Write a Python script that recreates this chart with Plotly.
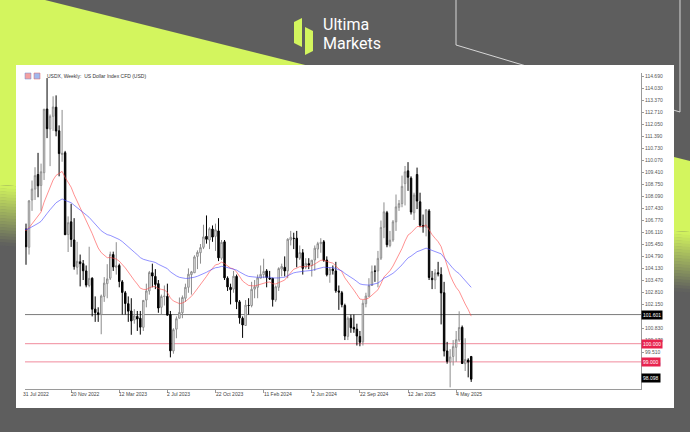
import plotly.graph_objects as go

W, H = 690, 432
ML, MR, MT, MB = 25, 49, 73, 43
PW, PH = W - ML - MR, H - MT - MB


def px(x):
    return (x - ML) / PW


def py(y):
    return (H - MB - y) / PH


# ---------------- data (weekly USDX CFD) ----------------
open_ = [105.55, 106.30, 105.30, 107.90, 108.50, 109.30, 108.70, 109.40, 112.90, 111.80,
         112.50, 113.00, 111.70, 110.40, 110.50, 106.00, 106.70, 105.70, 104.20, 104.50,
         104.40, 104.00, 103.20, 103.60, 101.90, 101.70, 101.60, 102.60, 103.30, 103.60,
         104.90, 104.20, 104.30, 103.40, 102.80, 102.20, 101.80, 101.30, 101.50, 101.40,
         100.90, 102.40, 102.90, 103.90, 103.70, 103.30, 102.00, 102.60, 102.60, 101.60,
         99.60, 100.80, 101.40, 101.70, 102.50, 103.10, 103.80, 103.90, 104.80, 105.00,
         105.30, 105.90, 105.70, 106.30, 105.90, 106.20, 104.70, 105.60, 103.60, 103.10,
         103.00, 103.70, 102.30, 101.40, 101.00, 102.10, 102.10, 103.00, 103.10, 103.60,
         103.80, 104.00, 103.60, 103.60, 102.40, 103.10, 104.10, 104.20, 104.00, 105.70,
         105.80, 105.80, 104.70, 105.00, 104.20, 104.40, 104.30, 104.60, 105.20, 105.50,
         105.60, 104.60, 103.80, 104.10, 104.00, 102.90, 102.80, 102.10, 100.40, 101.40,
         100.90, 100.80, 100.40, 100.10, 102.20, 102.60, 103.20, 104.00, 104.00, 104.70,
         106.40, 107.20, 105.40, 105.70, 106.70, 107.50, 107.70, 108.80, 109.50, 109.10,
         107.20, 109.30, 107.80, 106.50, 106.40, 107.30, 103.60, 103.50, 103.90, 103.80,
         102.80, 99.60, 99.00, 99.30, 99.80, 100.20, 100.90, 98.90, 99.10, 99.30]
high = [106.63, 106.60, 107.90, 108.97, 109.70, 110.49, 109.90, 112.90, 114.60, 112.60,
        113.60, 113.65, 112.00, 112.85, 110.60, 107.00, 107.69, 106.90, 105.60, 104.90,
        104.60, 104.30, 105.33, 103.65, 102.60, 102.00, 102.70, 103.66, 104.37, 105.06,
        105.06, 105.58, 104.40, 103.50, 102.90, 102.60, 102.50, 101.90, 101.80, 101.80,
        102.40, 103.30, 104.00, 104.40, 104.10, 103.50, 102.70, 103.20, 103.30, 101.80,
        100.85, 101.50, 102.54, 102.65, 103.30, 104.14, 104.00, 104.86, 105.13, 105.48,
        106.54, 107.05, 106.40, 106.50, 106.60, 106.90, 105.70, 105.70, 103.70, 103.30,
        104.00, 103.80, 102.40, 101.50, 102.40, 102.50, 103.40, 103.50, 103.80, 104.30,
        104.67, 104.10, 104.00, 103.60, 103.20, 104.20, 104.40, 104.80, 105.80, 106.20,
        106.10, 106.20, 105.40, 105.20, 104.70, 104.70, 104.60, 105.40, 105.60, 105.80,
        105.70, 104.80, 104.20, 104.30, 104.50, 103.20, 102.90, 102.20, 101.50, 101.60,
        101.60, 101.10, 100.70, 102.40, 102.80, 103.60, 104.30, 104.30, 105.10, 106.77,
        107.77, 107.30, 106.20, 106.80, 108.20, 107.90, 109.24, 109.77, 109.98, 109.20,
        108.30, 109.68, 108.30, 107.10, 107.40, 107.40, 104.00, 104.10, 104.50, 104.20,
        103.40, 100.10, 99.70, 100.20, 100.70, 101.78, 101.00, 100.30, 99.20, 99.30]
low = [104.33, 104.34, 104.90, 107.30, 107.90, 108.05, 107.30, 109.00, 111.30, 109.76,
       111.70, 111.40, 109.20, 110.00, 105.98, 105.04, 105.32, 104.07, 103.80, 103.15,
       103.50, 103.10, 103.10, 101.50, 101.20, 101.20, 100.52, 102.30, 102.50, 103.50,
       104.00, 103.80, 103.10, 101.60, 101.60, 101.20, 100.49, 101.10, 100.70, 100.50,
       100.70, 102.00, 102.70, 103.10, 103.00, 101.70, 101.60, 102.10, 101.55, 99.25,
       99.45, 100.30, 101.40, 101.40, 102.30, 102.80, 102.70, 103.90, 104.10, 104.40,
       105.20, 105.50, 105.20, 105.60, 105.10, 104.54, 104.60, 103.50, 102.90, 102.16,
       102.80, 101.90, 101.10, 100.32, 101.00, 101.60, 102.00, 102.50, 102.50, 103.60,
       103.60, 103.10, 103.50, 102.04, 102.30, 102.90, 103.70, 103.70, 103.60, 105.40,
       105.20, 104.20, 104.60, 103.80, 104.10, 104.10, 103.69, 104.00, 104.70, 105.00,
       104.50, 103.70, 103.35, 103.80, 102.80, 101.86, 102.00, 100.20, 100.20, 100.60,
       100.60, 99.90, 99.86, 99.90, 102.00, 102.60, 103.20, 103.40, 103.10, 104.60,
       105.80, 105.30, 105.30, 105.60, 106.20, 107.30, 107.50, 107.60, 108.40, 107.10,
       106.80, 107.40, 106.40, 106.10, 105.90, 103.50, 103.00, 103.00, 103.70, 101.06,
       99.30, 98.90, 97.60, 98.80, 99.00, 100.10, 98.90, 98.50, 98.15, 97.90]
close = [106.31, 105.33, 107.85, 108.50, 109.24, 108.68, 109.45, 112.89, 111.82, 112.50,
         113.01, 111.69, 110.45, 110.47, 105.99, 106.65, 105.73, 104.24, 104.53, 104.40,
         104.01, 103.22, 103.59, 101.90, 101.71, 101.62, 102.62, 103.33, 103.56, 104.91,
         104.22, 104.28, 103.42, 102.82, 102.21, 101.79, 101.25, 101.53, 101.36, 100.91,
         102.38, 102.90, 103.91, 103.72, 103.26, 101.96, 102.59, 102.61, 101.57, 99.61,
         100.77, 101.37, 101.72, 102.54, 103.10, 103.82, 103.95, 104.77, 105.02, 105.28,
         105.87, 105.74, 106.32, 105.86, 106.26, 104.72, 105.57, 103.62, 103.12, 102.97,
         103.71, 102.30, 101.42, 101.03, 102.12, 102.10, 102.99, 103.13, 103.62, 103.81,
         103.97, 103.64, 103.56, 102.42, 103.13, 104.13, 104.25, 104.00, 105.74, 105.85,
         105.78, 104.73, 105.01, 104.14, 104.42, 104.32, 104.59, 105.25, 105.50, 105.57,
         104.58, 103.79, 104.10, 104.02, 102.91, 102.84, 102.15, 100.42, 101.40, 100.88,
         100.81, 100.42, 100.08, 102.22, 102.62, 103.19, 103.96, 103.98, 104.69, 106.39,
         107.25, 105.44, 105.69, 106.70, 107.52, 107.70, 108.65, 109.45, 109.15, 107.24,
         108.17, 107.84, 106.51, 106.43, 107.36, 103.64, 103.52, 103.89, 103.84, 102.79,
         99.60, 99.03, 99.27, 99.84, 100.22, 100.89, 98.91, 99.13, 98.99, 98.05]

date_ticks = [0, 16, 32, 48, 64, 80, 96, 112, 128, 144]
date_labels = ["31 Jul 2022", "20 Nov 2022", "12 Mar 2023", "2 Jul 2023", "22 Oct 2023",
               "11 Feb 2024", "2 Jun 2024", "22 Sep 2024", "12 Jan 2025", "4 May 2025"]
# visible price scale labels (the ones hidden behind price tags are omitted)
price_ticks = [114.69, 114.03, 113.37, 112.71, 112.05, 111.39, 110.73, 110.07, 109.41,
               108.75, 108.09, 107.43, 106.77, 106.11, 105.45, 104.79, 104.13, 103.47,
               102.81, 102.15, 100.83, 100.17, 99.51, 98.85]
level_black = 101.601
level_red = [100.000, 99.000]
last_price = 98.098
ma_fast_period = 20
ma_slow_period = 50


def ema(values, period):
    a = 2.0 / (period + 1)
    out = [values[0]]
    for v in values[1:]:
        out.append(out[-1] + a * (v - out[-1]))
    return out


x_idx = list(range(len(close)))
ma_fast = ema(close, ma_fast_period)
ma_slow = ema(close, ma_slow_period)

LIME = "#d3f55e"
GRAY = "#5e5e5e"
FONT = "Liberation Sans"

fig = go.Figure()
fig.add_trace(go.Candlestick(
    x=x_idx, open=open_, high=high, low=low, close=close,
    increasing=dict(line=dict(color="#8c8c8c", width=1), fillcolor="#ffffff"),
    decreasing=dict(line=dict(color="#000000", width=1), fillcolor="#000000"),
    whiskerwidth=0, hoverinfo="skip", showlegend=False))
fig.add_trace(go.Scatter(x=x_idx, y=ma_fast, mode="lines",
                         line=dict(color="rgba(255,70,70,0.75)", width=0.8),
                         hoverinfo="skip", showlegend=False))
fig.add_trace(go.Scatter(x=x_idx, y=ma_slow, mode="lines",
                         line=dict(color="rgba(70,70,255,0.75)", width=0.8),
                         hoverinfo="skip", showlegend=False))

shapes = []


def poly(points, color, layer="below"):
    d = "M " + " L ".join(f"{px(x):.5f},{py(y):.5f}" for x, y in points) + " Z"
    return dict(type="path", path=d, xref="paper", yref="paper", fillcolor=color,
                line=dict(width=0), layer=layer)


def mix(c1, c2, t):
    a = [int(c1[i:i + 2], 16) for i in (1, 3, 5)]
    b = [int(c2[i:i + 2], 16) for i in (1, 3, 5)]
    return "rgb(%d,%d,%d)" % tuple(round(a[k] + (b[k] - a[k]) * t) for k in range(3))


# lime diagonal band with fading bottom
a0, b0, fade = 185, 232, 60
shapes.append(poly([(0, 0), (45, 0), (690, 161), (690, b0), (0, a0)], LIME))
n = 20
for k in range(n):
    t = (k + 0.5) / n
    y0a, y0b = a0 + fade * k / n, b0 + fade * k / n
    y1a, y1b = a0 + fade * (k + 1) / n, b0 + fade * (k + 1) / n
    shapes.append(poly([(0, y0a), (690, y0b), (690, y1b + 0.5), (0, y1a + 0.5)], mix(LIME, GRAY, t)))

# decorative outline
outline = "M {} L {} L {} L {}".format(
    f"{px(456):.5f},{py(-2):.5f}", f"{px(456):.5f},{py(45):.5f}",
    f"{px(680):.5f},{py(112):.5f}", f"{px(680):.5f},{py(-2):.5f}")
shapes.append(dict(type="path", path=outline, xref="paper", yref="paper",
                   line=dict(color="rgba(235,235,235,0.85)", width=1), layer="below"))

# white chart panel
shapes.append(dict(type="rect", xref="paper", yref="paper", x0=px(16), x1=px(674),
                   y0=py(65), y1=py(408), fillcolor="#ffffff", line=dict(width=0), layer="below"))

# logo icon
shapes.append(poly([(294, 22), (302, 18), (302, 47), (294, 43)], LIME, layer="above"))
shapes.append(poly([(305, 27), (313, 31), (313, 51), (305, 55)], LIME, layer="above"))

# legend icons
shapes.append(dict(type="rect", xref="paper", yref="paper", x0=px(25), x1=px(31), y0=py(73), y1=py(79),
                   fillcolor="#f4a0a0", line=dict(color="#6a8fd8", width=0.5), layer="above"))
shapes.append(dict(type="rect", xref="paper", yref="paper", x0=px(34), x1=px(40), y0=py(73), y1=py(79),
                   fillcolor="#9fb8ee", line=dict(color="#e06060", width=0.5), layer="above"))

# horizontal levels
shapes.append(dict(type="line", xref="paper", yref="y", x0=0, x1=1, y0=level_black, y1=level_black,
                   line=dict(color="#7a7a7a", width=1), layer="below"))
for lv in level_red:
    shapes.append(dict(type="line", xref="paper", yref="y", x0=0, x1=1, y0=lv, y1=lv,
                       line=dict(color="#f08a9c", width=1), layer="below"))

annotations = []
# logo text
annotations.append(dict(text="Ultima", x=px(321), y=py(24), xref="paper", yref="paper",
                        xanchor="left", yanchor="middle", showarrow=False,
                        font=dict(family="Roboto", size=16, color="#ffffff")))
annotations.append(dict(text="Markets", x=px(321), y=py(44), xref="paper", yref="paper",
                        xanchor="left", yanchor="middle", showarrow=False,
                        font=dict(family="Roboto", size=16, color="#ffffff")))
# chart title
annotations.append(dict(text="USDX, Weekly:  US Dollar Index CFD (USD)", x=px(45), y=py(76),
                        xref="paper", yref="paper", xanchor="left", yanchor="middle",
                        showarrow=False, font=dict(family=FONT, size=5, color="#333333")))
# date labels (left aligned at their bar, like the terminal does)
for i, lab in zip(date_ticks, date_labels):
    xpix = 23 + 3.008 * i
    annotations.append(dict(text=lab, x=px(xpix - 2), y=py(394), xref="paper", yref="paper",
                            xanchor="left", yanchor="middle", showarrow=False,
                            font=dict(family=FONT, size=5, color="#444444")))


def price_tag(val, bg, text):
    return dict(text=text, x=1, y=val, xref="paper", yref="y", xanchor="left", yanchor="middle",
                xshift=0, showarrow=False, bgcolor=bg, borderpad=1,
                font=dict(family=FONT, size=5, color="#ffffff"))


annotations.append(price_tag(level_black, "#000000", f"{level_black:.3f}"))
for lv in level_red:
    annotations.append(price_tag(lv, "#e8234e", f"{lv:.3f}"))
annotations.append(price_tag(last_price, "#000000", f"{last_price:.3f}"))

fig.update_layout(
    width=W, height=H, margin=dict(l=ML, r=MR, t=MT, b=MB, pad=0),
    paper_bgcolor=GRAY, plot_bgcolor="rgba(0,0,0,0)",
    shapes=shapes, annotations=annotations, showlegend=False,
    xaxis=dict(range=[0.665, 205.45], rangeslider=dict(visible=False), showgrid=False,
               zeroline=False, showline=True, linecolor="#9a9a9a", linewidth=1,
               ticks="outside", tickvals=date_ticks, ticklen=3, tickcolor="#9a9a9a",
               showticklabels=False, fixedrange=True),
    yaxis=dict(range=[97.51, 114.88], side="right", showgrid=False, zeroline=False,
               showline=True, linecolor="#9a9a9a", linewidth=1, ticks="outside", ticklen=2,
               tickcolor="#9a9a9a", tickvals=price_ticks,
               ticktext=[f"{v:.3f}" for v in price_ticks],
               tickfont=dict(family=FONT, size=5, color="#555555"), fixedrange=True),
)

fig.write_html("out.html", config={"displayModeBar": False},
               post_script="document.body.style.margin='0';")
